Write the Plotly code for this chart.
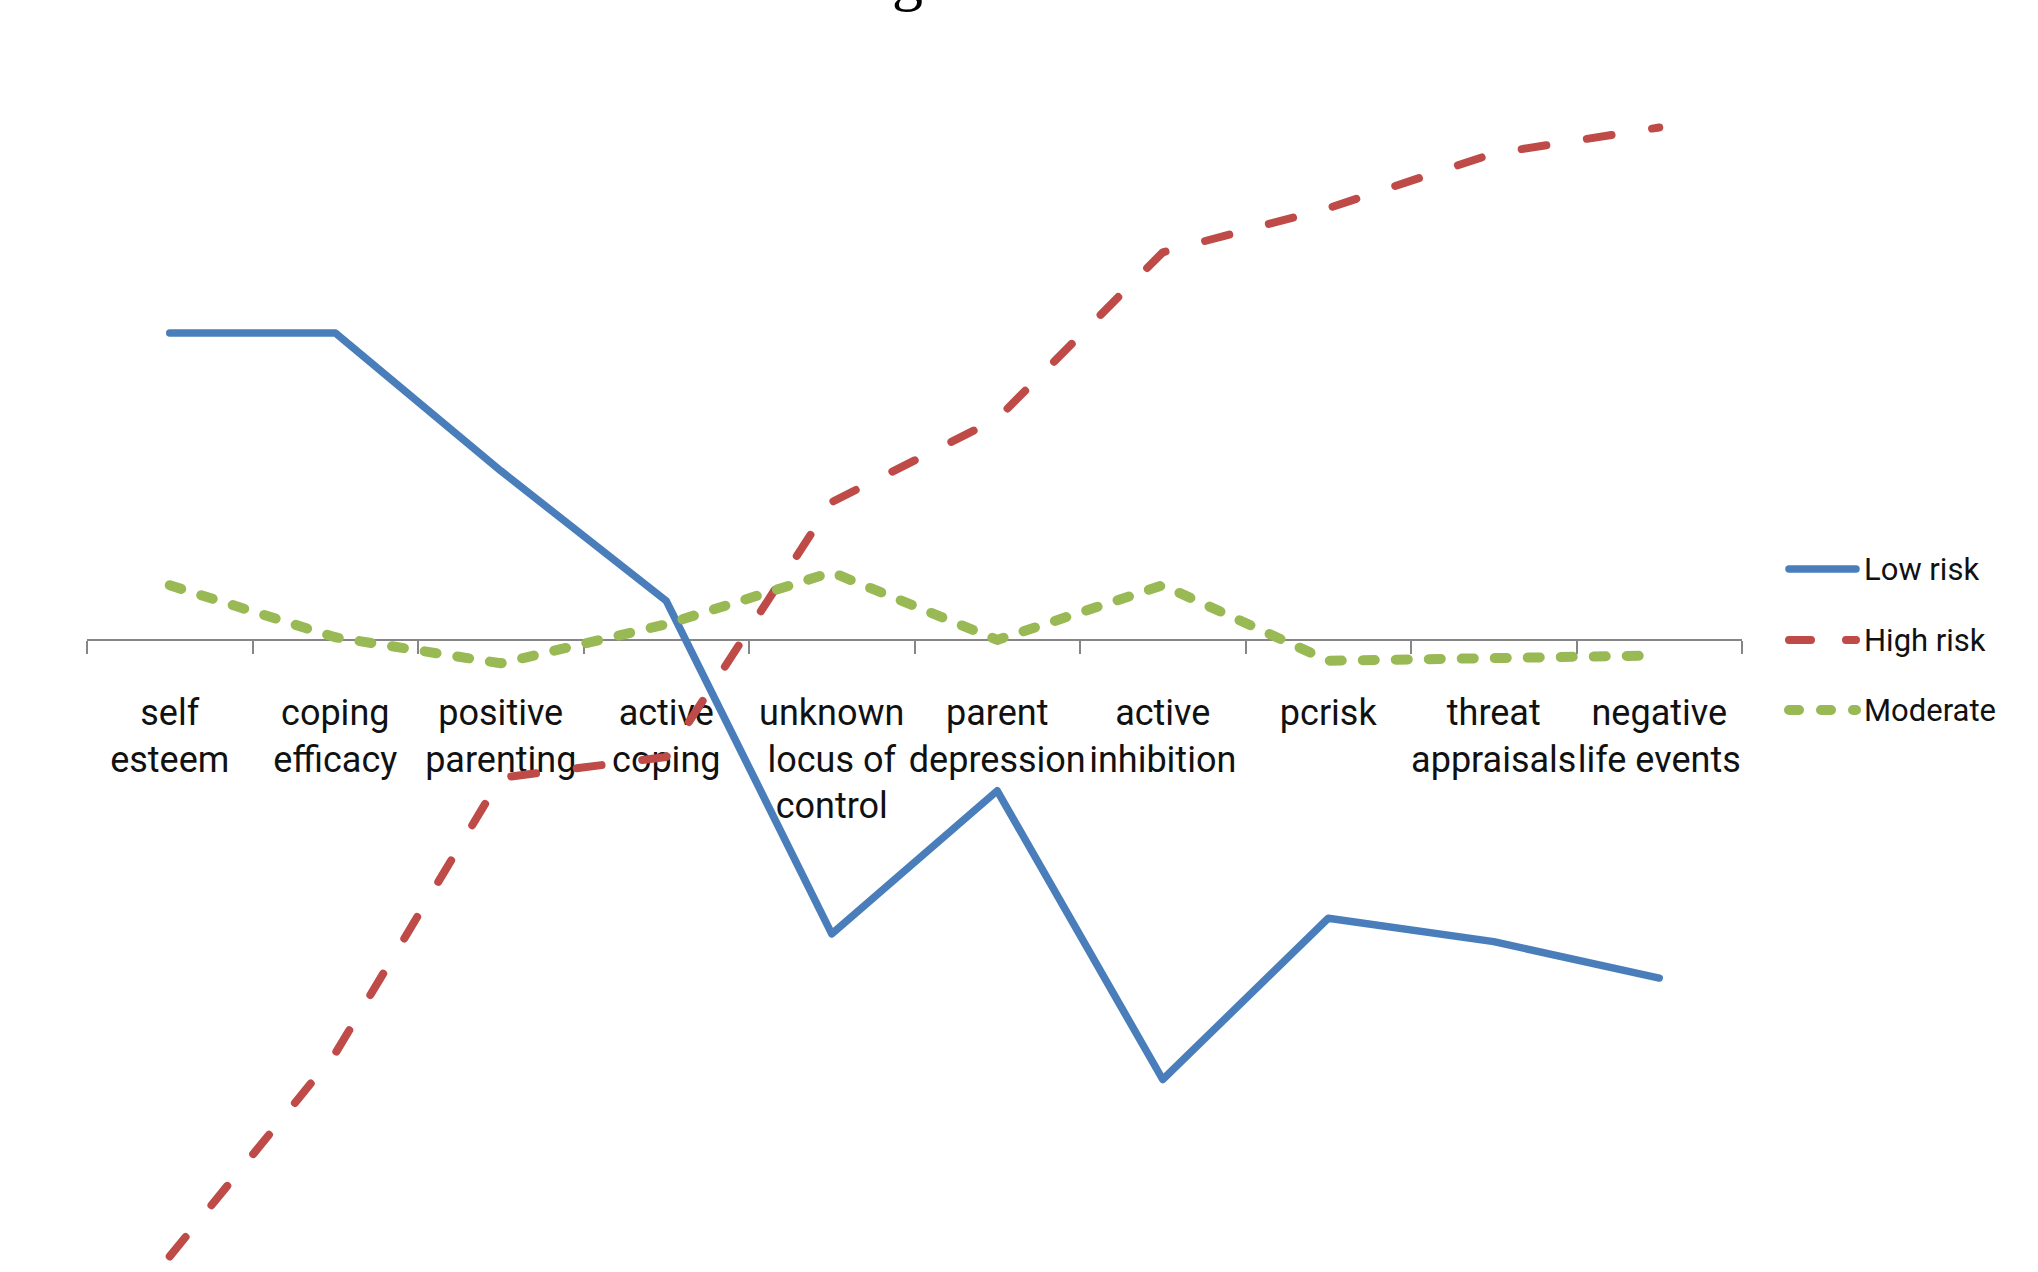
import plotly.graph_objects as go

# Factor names along the category axis
categories = [
    "self esteem", "coping efficacy", "positive parenting", "active coping",
    "unknown locus of control", "parent depression", "active inhibition",
    "pcrisk", "threat appraisals", "negative life events",
]
tick_labels = [
    "self<br>esteem", "coping<br>efficacy", "positive<br>parenting", "active<br>coping",
    "unknown<br>locus of<br>control", "parent<br>depression", "active<br>inhibition",
    "pcrisk", "threat<br>appraisals", "negative<br>life events",
]

# Profile means per risk group
low_risk = [1.18, 1.18, 0.65, 0.15, -1.13, -0.58, -1.69, -1.07, -1.16, -1.30]
high_risk = [-2.37, -1.59, -0.53, -0.45, 0.53, 0.85, 1.49, 1.66, 1.87, 1.97]
moderate = [0.21, 0.01, -0.09, 0.06, 0.26, 0.00, 0.21, -0.08, -0.07, -0.06]

series_names = ["Low risk", "High risk", "Moderate"]

W, H = 2038, 1272
L_M, R_M = 87, 296
Y_MIN, Y_MAX = -2.43, 2.46

BLUE = "#4A7EBB"
RED = "#BE4B48"
GREEN = "#98B954"
AXIS_GRAY = "#868686"
TEXT_FONT = "Roboto, Liberation Sans, sans-serif"

styles = [
    dict(color=BLUE, width=7.5, dash="solid", key="solid"),
    dict(color=RED, width=8, dash="25px,41px", key="22px,35px"),
    dict(color=GREEN, width=10, dash="12px,21px", key="10px,22px"),
]

fig = go.Figure()
for name, vals, st in zip(series_names, [low_risk, high_risk, moderate], styles):
    fig.add_trace(go.Scatter(
        x=categories, y=vals, mode="lines", name=name,
        line=dict(color=st["color"], width=st["width"], dash=st["dash"]),
        showlegend=False, hoverinfo="x+y+name",
    ))

# x axis crosses the value axis at zero
zero_frac = (0 - Y_MIN) / (Y_MAX - Y_MIN)

fig.update_layout(
    width=W, height=H, autosize=False,
    margin=dict(l=L_M, r=R_M, t=0, b=0, pad=0),
    paper_bgcolor="white", plot_bgcolor="white",
    xaxis=dict(
        type="category", categoryorder="array", categoryarray=categories,
        tickvals=categories, ticktext=tick_labels,
        range=[-0.5, len(categories) - 0.5],
        tickson="boundaries", ticks="outside", ticklen=13, tickwidth=1.5,
        tickcolor=AXIS_GRAY, showline=True, linecolor=AXIS_GRAY, linewidth=1.5,
        showgrid=False, zeroline=False,
        anchor="free", position=zero_frac, side="bottom",
        layer="below traces", ticklabelstandoff=41,
        tickfont=dict(family=TEXT_FONT, size=36, color="#111111"),
        tickangle=0,
    ),
    yaxis=dict(range=[Y_MIN, Y_MAX], visible=False, showgrid=False, zeroline=False),
    showlegend=False,
)

# Legend drawn at the right of the plot
plot_w = W - L_M - R_M


def px_x(px):
    return (px - L_M) / plot_w


def px_y(py):
    return 1 - py / H


legend_rows = [569, 640, 710]
for name, st, py in zip(series_names, styles, legend_rows):
    fig.add_shape(
        type="line", xref="paper", yref="paper",
        x0=px_x(1789), x1=px_x(1856), y0=px_y(py), y1=px_y(py),
        line=dict(color=st["color"], width=st["width"], dash=st["key"]),
    )
    fig.add_annotation(
        xref="paper", yref="paper", x=px_x(1862), y=px_y(py),
        xanchor="left", yanchor="middle", showarrow=False,
        text=name, font=dict(family=TEXT_FONT, size=31, color="#111111"),
    )

# Title line above the chart
fig.add_annotation(
    xref="paper", yref="paper", x=px_x(907), y=1, xanchor="center", yanchor="bottom",
    yshift=-14, showarrow=False, text="g",
    font=dict(family="Liberation Serif, serif", size=62, color="#000000"),
)

round_caps = """
document.querySelectorAll('.scatterlayer path.js-line, .shapelayer path').forEach(function(p){
  p.style.strokeLinecap = 'round';
  p.style.strokeLinejoin = 'round';
});
"""

fig.write_html("out.html", post_script=round_caps)
